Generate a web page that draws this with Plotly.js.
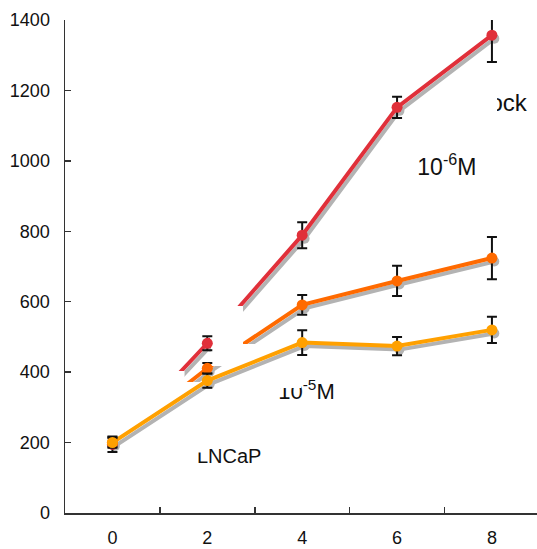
<!DOCTYPE html>
<html><head><meta charset="utf-8">
<script src="https://cdn.plot.ly/plotly-3.0.1.min.js"></script>
<style>html,body{margin:0;padding:0;background:#fff}#chart{width:537px;height:549px}</style>
</head><body><div id="chart"></div>
<script>
// ---- data ----
const days = [0, 2, 4, 6, 8];
const mockVals = [195, 482, 789, 1152, 1357];
const mockErr  = [22, 20, 37, 30, 76];
const m6Vals   = [200, 411, 591, 659, 724];
const m6Err    = [12, 15, 28, 43, 60];
const m5Vals   = [200, 376, 484, 474, 520];
const m5Err    = [15, 20, 35, 26, 37];
const xTickLabels = ['0', '2', '4', '6', '8'];
const labelTexts = ['Mock', '10<sup>-6</sup>M', '10<sup>-5</sup>M', 'LNCaP'];

// ---- styling / layout helpers ----
const RED = '#e0303a', DORANGE = '#ff6a00', ORANGE = '#ffa000', SHADOW = '#b3b3b3';
const FONT = 'Arial, "Liberation Sans", sans-serif';
const labelPos = {x: [8.13, 7.05, 4.09, 2.46], y: [1160, 976, 338, 157], size: [24, 23, 22, 20]};
// white masking patches [x0, x1, y0, y1] in data units
const covers = [
  [2.057, 2.753, 479.9, 587.8],
  [2.078, 3.027, 417.4, 479.9],
  [-0.367, 1.52, 372.0, 403.3],
  [-0.367, 1.91, 171.5, 372.0],
  [3.32, 3.98, 355.0, 434.5],
  [7.40, 8.107, 1118, 1215]
];
const SDX = 0.05, SDY = -10;

function shadowTrace(vals) {
  return {x: days.map(d => d + SDX), y: vals.map(v => v + SDY), mode: 'lines+markers',
    line: {color: SHADOW, width: 4}, marker: {color: SHADOW, size: 10}, hoverinfo: 'skip'};
}
function lineTrace(vals, color) {
  return {x: days, y: vals, mode: 'lines', line: {color: color, width: 4}, hoverinfo: 'skip'};
}
function markerTrace(vals, err, color) {
  return {x: days, y: vals, mode: 'markers', marker: {color: color, size: 11},
    error_y: {type: 'data', array: err, visible: true, color: '#111', thickness: 2, width: 5}};
}

const traces = [];
traces.push({x: labelPos.x, y: labelPos.y, text: labelTexts, mode: 'text', textposition: 'middle center',
  textfont: {family: FONT, size: labelPos.size, color: '#111'}, hoverinfo: 'skip', cliponaxis: false});
traces.push(shadowTrace(mockVals), lineTrace(mockVals, RED));
traces.push(shadowTrace(m6Vals), lineTrace(m6Vals, DORANGE));
covers.forEach(c => traces.push({x: [c[0], c[1], c[1], c[0], c[0]], y: [c[2], c[2], c[3], c[3], c[2]],
  mode: 'lines', fill: 'toself', fillcolor: '#ffffff', line: {color: 'rgba(0,0,0,0)', width: 0}, hoverinfo: 'skip'}));
traces.push(shadowTrace(m5Vals), lineTrace(m5Vals, ORANGE));
traces.push(markerTrace(mockVals, mockErr, RED));
traces.push(markerTrace(m6Vals, m6Err, DORANGE));
traces.push(markerTrace(m5Vals, m5Err, ORANGE));

const layout = {
  width: 537, height: 549,
  margin: {l: 65, r: 0, t: 20, b: 36},
  paper_bgcolor: '#fff', plot_bgcolor: '#fff',
  showlegend: false,
  font: {family: FONT, color: '#111'},
  xaxis: {range: [-1, 8.95], tickmode: 'array', tickvals: days, ticktext: xTickLabels, ticks: '',
    showline: true, linecolor: '#333', linewidth: 1.5, showgrid: false, zeroline: false,
    tickfont: {size: 18, family: FONT, color: '#111'}, ticklabelstandoff: 8,
    minor: {tickmode: 'array', tickvals: [1, 3, 5, 7], ticks: 'inside', ticklen: 6, tickwidth: 1.5, tickcolor: '#333', showgrid: false}},
  yaxis: {range: [0, 1400], tickmode: 'linear', tick0: 0, dtick: 200, ticks: 'inside', ticklen: 6, tickwidth: 1.5, tickcolor: '#333',
    showline: true, linecolor: '#333', linewidth: 1.5, showgrid: false, zeroline: false,
    tickfont: {size: 18, family: FONT, color: '#111'}, ticklabelstandoff: 10}
};
Plotly.newPlot('chart', traces, layout, {displayModeBar: false, staticPlot: true});
</script></body></html>
